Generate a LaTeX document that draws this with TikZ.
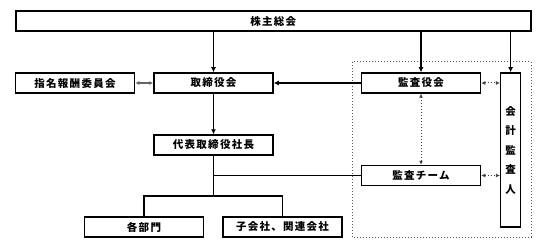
\documentclass[tikz,border=0pt]{standalone}
\usepackage{fontspec}
\newfontfamily\jpfont[LetterSpace=12]{Noto Sans CJK JP}
\usetikzlibrary{arrows.meta}

\tikzset{
  orgbox/.style={draw, line width=1.5pt, minimum width=119pt, minimum height=20pt,
    inner sep=0pt, font=\jpfont\bfseries\fontsize{10.5}{12}\selectfont},
  link/.style={line width=1.3pt},
  linkarrow/.style={link, -{Latex[length=5pt,width=5pt]}},
  dotlink/.style={line width=1pt, black!75, dotted, {Latex[length=4pt,width=4pt]}-{Latex[length=4pt,width=4pt]}},
}

\begin{document}
\begin{tikzpicture}[x=1pt, y=-1pt]

    \useasboundingbox (0,0) rectangle (545,251);

    % audit frame
    \draw[black!65, dotted, line width=1pt] (352,62) rectangle (531,237);

    \node[orgbox, minimum width=515pt] (share) at (273.3,21) {株主総会};

    \node[orgbox] (nominate) at (75,83) {指名報酬委員会};
    \node[orgbox] (board) at (213.5,83) {取締役会};
    \node[orgbox] (auditboard) at (421,83) {監査役会};

    \node[orgbox] (ceo) at (213.5,145) {代表取締役社長};
    \node[orgbox] (auditteam) at (421,175.5) {監査チーム};

    \node[orgbox] (dept) at (144,227) {各部門};
    \node[orgbox] (subsid) at (282.5,227) {子会社、関連会社};

    \node[orgbox, minimum width=20pt, minimum height=154pt, align=center,
      font=\jpfont\bfseries\fontsize{10.5}{19.5}\selectfont] (accountant) at (510.6,150)
      {会\\計\\監\\査\\人};

    % connectors
    \draw[linkarrow] (board.north |- share.south) -- (board.north);
    \draw[linkarrow] (auditboard.north |- share.south) -- (auditboard.north);
    \draw[linkarrow] (accountant.north |- share.south) -- (accountant.north);

    \draw[linkarrow] (auditboard.west) -- (board.east);
    \draw[linkarrow] (board.south) -- (ceo.north);

    \draw[black!60, line width=1.2pt, {Latex[length=4pt,width=4pt]}-{Latex[length=4pt,width=4pt]}]
      (nominate.east) -- (board.west);

    \coordinate (fork) at (213.5,196);
    \draw[link] (ceo.south) -- (fork);
    \draw[link] (ceo.south |- auditteam.west) -- (auditteam.west);
    \draw[link] (dept.north) -- (dept.north |- fork) -- (subsid.north |- fork) -- (subsid.north);

    \draw[dotlink] (auditboard.south) -- (auditteam.north);
    \draw[dotlink] (auditboard.east) -- (auditboard.east -| accountant.west);
    \draw[dotlink] (auditteam.east) -- (auditteam.east -| accountant.west);

\end{tikzpicture}
\end{document}
